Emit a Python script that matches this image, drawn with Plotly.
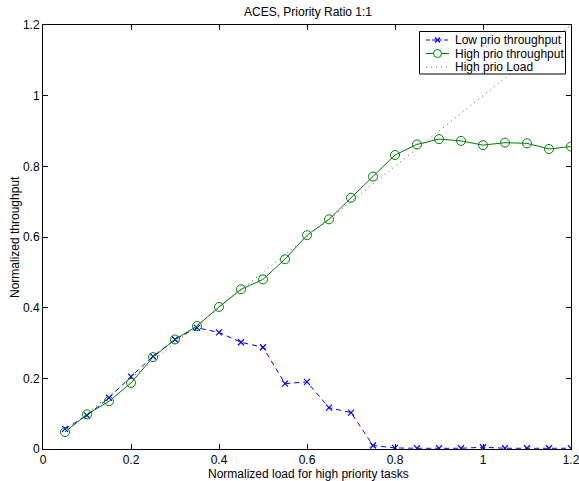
import plotly.graph_objects as go

load = [0.05, 0.1, 0.15, 0.2, 0.25, 0.3, 0.35, 0.4, 0.45, 0.5, 0.55, 0.6,
        0.65, 0.7, 0.75, 0.8, 0.85, 0.9, 0.95, 1.0, 1.05, 1.1, 1.15, 1.2]
low_prio = [0.057, 0.095, 0.145, 0.205, 0.262, 0.31, 0.343, 0.330, 0.302, 0.288,
            0.185, 0.19, 0.117, 0.103, 0.01, 0.003, 0.002, 0.002, 0.002, 0.005,
            0.002, 0.002, 0.002, 0.002]
high_prio = [0.048, 0.098, 0.135, 0.187, 0.26, 0.31, 0.348, 0.402, 0.452, 0.48,
             0.537, 0.605, 0.65, 0.711, 0.771, 0.832, 0.862, 0.877, 0.872, 0.860,
             0.867, 0.865, 0.849, 0.856]
high_load = [0.05, 0.1, 0.15, 0.2, 0.25, 0.3, 0.35, 0.4, 0.45, 0.5, 0.55, 0.6,
             0.65, 0.7, 0.75, 0.8, 0.85, 0.9, 0.95, 1.0, 1.05, 1.1, 1.15, 1.2]
ticks = [0, 0.2, 0.4, 0.6, 0.8, 1, 1.2]
tick_text = ["0", "0.2", "0.4", "0.6", "0.8", "1", "1.2"]
series_names = ["Low prio throughput", "High prio throughput", "High prio Load"]

FONT = dict(family="Liberation Sans, Arial", size=12, color="black")
BLUE, GREEN, GREY = "#0000ff", "#008000", "#555555"

W, H = 579, 481
L, R, T, B = 43, 8, 25, 32

fig = go.Figure()
fig.add_trace(go.Scatter(
    x=load, y=low_prio, name=series_names[0], mode="lines+markers",
    line=dict(color=BLUE, width=1, dash="5px,4px"),
    marker=dict(symbol="x-thin", size=6, line=dict(color=BLUE, width=1.2))))
fig.add_trace(go.Scatter(
    x=load, y=high_prio, name=series_names[1], mode="lines+markers",
    line=dict(color=GREEN, width=1),
    marker=dict(symbol="circle-open", size=9, color=GREEN, line=dict(width=1))))
fig.add_trace(go.Scatter(
    x=load, y=high_load, name=series_names[2], mode="lines",
    line=dict(color=GREY, width=1, dash="1px,4px")))

axis_common = dict(
    range=[0, 1.2], tickvals=ticks, ticktext=tick_text, ticks="inside",
    ticklen=5, tickcolor="black", showline=True, linecolor="black", linewidth=1,
    mirror="ticks", showgrid=False, zeroline=False, automargin=False,
    ticklabeloverflow="allow", tickfont=FONT)

PW, PH = W - L - R, H - T - B

def px2x(px):
    return (px - L) / PW

def py2y(py):
    return (H - B - py) / PH

ann = []
for text, px, py, ang in [("ACES, Priority Ratio 1:1", 308, 12, 0),
                          ("Normalized load for high priority tasks", 308, 474, 0),
                          ("Normalized throughput", 15, 237, -90)]:
    ann.append(dict(text=text, x=px2x(px), y=py2y(py), xref="paper", yref="paper",
                    xanchor="center", yanchor="middle", textangle=ang,
                    showarrow=False, font=FONT))

# manual legend (compact rows like the reference)
shapes = [dict(type="rect", xref="paper", yref="paper", layer="above",
               x0=px2x(419.5), x1=px2x(565.5), y0=py2y(74), y1=py2y(31.5),
               fillcolor="white", line=dict(color="black", width=1))]
rows = [40, 53.5, 67]
styles = [dict(color=BLUE, width=1, dash="4px,2px"),
          dict(color=GREEN, width=1),
          dict(color=GREY, width=1, dash="1px,4px")]
for name, ry, st in zip(series_names, rows, styles):
    shapes.append(dict(type="line", xref="paper", yref="paper", layer="above",
                       x0=px2x(426), x1=px2x(449), y0=py2y(ry), y1=py2y(ry), line=st))
    ann.append(dict(text=name, x=px2x(452.5), y=py2y(ry), xref="paper", yref="paper",
                    xanchor="left", yanchor="middle", showarrow=False, font=FONT))
# legend marker glyphs
cx = 437.5
shapes.append(dict(type="line", xref="paper", yref="paper", layer="above",
                   x0=px2x(cx - 2.5), x1=px2x(cx + 2.5), y0=py2y(rows[0] - 2.5),
                   y1=py2y(rows[0] + 2.5), line=dict(color=BLUE, width=1.2)))
shapes.append(dict(type="line", xref="paper", yref="paper", layer="above",
                   x0=px2x(cx - 2.5), x1=px2x(cx + 2.5), y0=py2y(rows[0] + 2.5),
                   y1=py2y(rows[0] - 2.5), line=dict(color=BLUE, width=1.2)))
shapes.append(dict(type="circle", xref="paper", yref="paper", layer="above",
                   x0=px2x(cx - 4), x1=px2x(cx + 4), y0=py2y(rows[1] + 4),
                   y1=py2y(rows[1] - 4), fillcolor="white",
                   line=dict(color=GREEN, width=1)))

fig.update_layout(
    width=W, height=H,
    margin=dict(l=L, r=R, t=T, b=B, autoexpand=False),
    paper_bgcolor="white", plot_bgcolor="white",
    xaxis=dict(axis_common),
    yaxis=dict(axis_common),
    showlegend=False,
    hovermode=False,
    annotations=ann,
    shapes=shapes,
)

# remove the default page margin so the figure fills the window exactly
fig.write_html("out.html",
               config={"displayModeBar": False, "staticPlot": True},
               post_script="document.body.style.margin='0';"
                           "document.body.style.overflow='hidden';")
